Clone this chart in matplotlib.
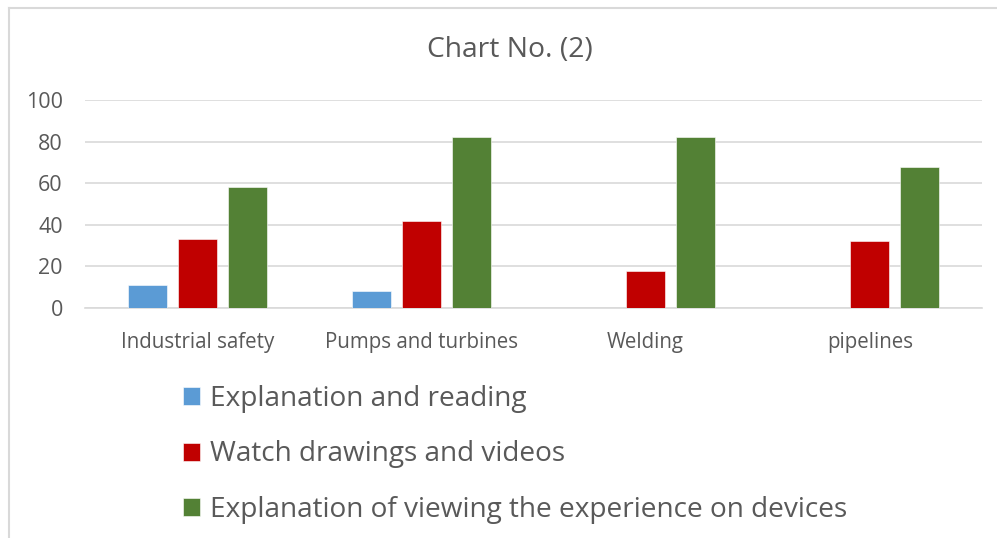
import numpy as np
import matplotlib.pyplot as plt
from matplotlib.lines import Line2D

categories = ['Industrial safety', 'Pumps and turbines', 'Welding', 'pipelines']
series_names = ['Explanation and reading',
                'Watch drawings and videos',
                'Explanation of viewing the experience on devices']
reading = [11, 8, 0, 0]
videos = [33, 42, 18, 32]
devices = [58, 82, 82, 68]
yticks = [0, 20, 40, 60, 80, 100]

colors = ['#5B9BD5', '#C00000', '#538135']
text_color = '#595959'
grid_color = '#D9D9D9'

plt.rcParams['font.family'] = ['Open Sans', 'DejaVu Sans']

W, H = 997, 538
fig = plt.figure(figsize=(W / 100, H / 100), dpi=100)

# outer chart frame (left and top edges visible)
fig.add_artist(Line2D([9 / W, 9 / W], [0, 1 - 8 / H], color=grid_color, lw=1.5))
fig.add_artist(Line2D([9 / W, 1], [1 - 8 / H, 1 - 8 / H], color=grid_color, lw=1.5))

ax = fig.add_axes([85 / W, 230 / H, (982 - 85) / W, 208 / H])

x = np.arange(len(categories))
width = 0.174
step = 0.223
bars = []
for i, (vals, c) in enumerate(zip([reading, videos, devices], colors)):
    b = ax.bar(x + (i - 1) * step, vals, width, color=c, edgecolor='white',
               linewidth=0.4, zorder=3, label=series_names[i])
    bars.append(b)

ax.set_xlim(-0.5, len(categories) - 0.5)
ax.set_ylim(0, 100)
ax.set_yticks(yticks)
ax.set_xticks(x)
ax.set_xticklabels(categories)
ax.yaxis.grid(True, color=grid_color, linewidth=1.2, zorder=0)
for s in ['top', 'right', 'left']:
    ax.spines[s].set_visible(False)
ax.spines['bottom'].set_color(grid_color)
ax.spines['bottom'].set_linewidth(1.2)
ax.tick_params(axis='both', length=0, colors=text_color)
ax.tick_params(axis='x', labelsize=14.8, pad=17)
ax.tick_params(axis='y', labelsize=15.5, pad=16)

fig.text(510 / W, 1 - 50 / H, 'Chart No. (2)', ha='center', va='center',
         fontsize=20.3, color=text_color)

leg = fig.legend(handles=bars, labels=series_names, loc='upper left',
                 bbox_to_anchor=(183 / W, 1 - 385 / H), frameon=False,
                 fontsize=20.2, handlelength=0.6, handleheight=0.6,
                 handletextpad=0.36, labelspacing=0.98,
                 borderpad=0, borderaxespad=0)
for t in leg.get_texts():
    t.set_color(text_color)

fig.savefig('out.png', dpi=100)
